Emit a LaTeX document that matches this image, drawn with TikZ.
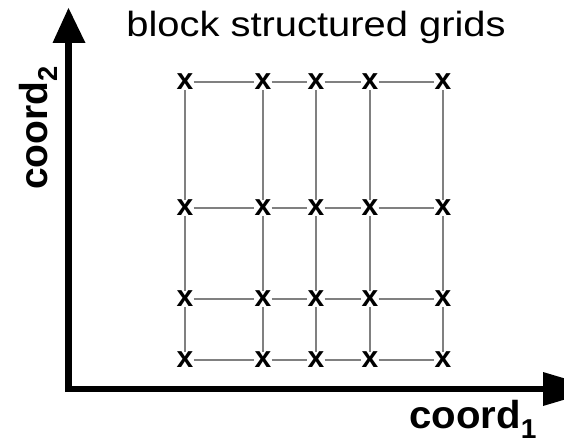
\documentclass[tikz,border=0pt]{standalone}
\usepackage{fontspec}
\setmainfont{Liberation Sans}
\begin{document}
\begin{tikzpicture}[x=1pt,y=-1pt,
  gmark/.style={inner sep=0pt,font=\fontsize{30}{30}\selectfont\bfseries},
  gline/.style={draw=black!50,line width=1.3pt},
  axis/.style={line width=6.5pt,draw=black},
  axlabel/.style={inner sep=0pt,font=\fontsize{39}{39}\selectfont\bfseries}]
\useasboundingbox (0,0) rectangle (564,444);
% grid marks
\foreach \c/\x in {1/185,2/263,3/316,4/370,5/443}{
  \foreach \r/\y in {1/82,2/208,3/299,4/360}{
    \node[gmark] (m\c\r) at (\x,\y) {x};
  }
}
% grid lines
\foreach \r in {1,2,3,4}{
  \foreach \c/\n in {1/2,2/3,3/4,4/5}{
    \draw[gline] (m\c\r) -- (m\n\r);
  }
}
\foreach \c in {1,2,3,4,5}{
  \foreach \r/\n in {1/2,2/3,3/4}{
    \draw[gline] (m\c\r) -- (m\c\n);
  }
}
% axes
\coordinate (o) at (68.5,392);
\coordinate (ytop) at (68.5,8);
\coordinate (xend) at (600,389);
\draw[axis] (68.5,392) -- (68.5,40);
\draw[axis] (65.25,389) -- (546,389);
\fill (ytop) -- (52.5,43) -- (85.5,43) -- cycle;
\fill (xend) -- (543,372) -- (543,406) -- cycle;
% labels
\node[inner sep=0pt,anchor=base,xscale=1.14,font=\fontsize{35}{35}\selectfont] (title) at (316,37) {block structured grids};
\node[axlabel,anchor=base west,xscale=1.03] (x1) at (409,428) {coord\textsubscript{1}};
\node[axlabel,anchor=base west,rotate=90] (x2) at (47,190) {coord\textsubscript{2}};
\end{tikzpicture}
\end{document}
